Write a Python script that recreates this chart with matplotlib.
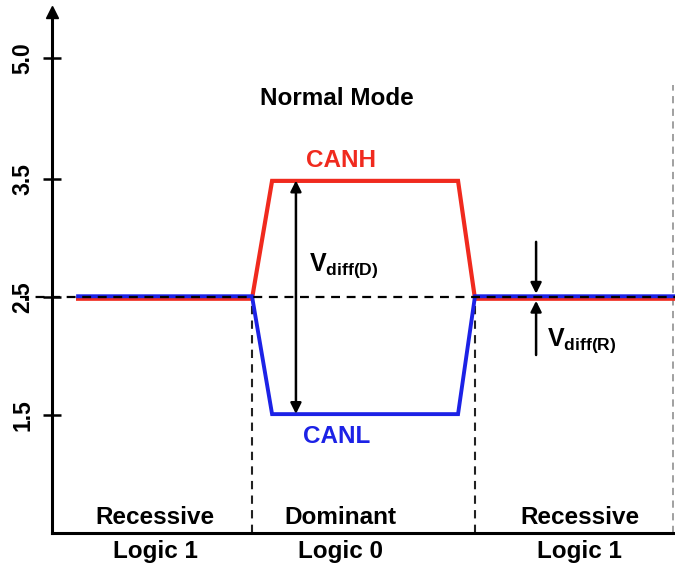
import matplotlib
matplotlib.use("Agg")
import matplotlib.pyplot as plt
from matplotlib.transforms import offset_copy

plt.rcParams['font.family'] = ['Liberation Sans', 'DejaVu Sans']
plt.rcParams['mathtext.fontset'] = 'custom'
plt.rcParams['mathtext.rm'] = 'Liberation Sans:bold'
plt.rcParams['mathtext.bf'] = 'Liberation Sans:bold'
plt.rcParams['mathtext.it'] = 'Liberation Sans:bold'

# ---- data ----
canh_t = [0.22, 1.0, 1.09, 1.924, 2.0, 2.897]
canh_v = [2.5, 2.5, 3.5, 3.5, 2.5, 2.5]
canl_t = [0.22, 1.0, 1.09, 1.924, 2.0, 2.897]
canl_v = [2.5, 2.5, 1.5, 1.5, 2.5, 2.5]
ref_level = 2.5
bit_bounds = [1.0, 2.0]
ytick_pos = [1.5, 2.5, 3.5, 4.53]
ytick_labels = ['1.5', '2.5', '3.5', '5.0']
state_labels = ['Recessive', 'Dominant', 'Recessive']
logic_labels = ['Logic 1', 'Logic 0', 'Logic 1']
state_x = [0.565, 1.395, 2.47]

RED = '#f02a1e'
BLUE = '#1c22e6'
FS = 17.5

fig = plt.figure(figsize=(6.75, 5.66), dpi=100)
ax = fig.add_axes([52/675, 33/566, 623/675, 521/566])
ax.set_xlim(0.103, 2.897)
ax.set_ylim(0.5, 4.92)

# signals
red_tr = offset_copy(ax.transData, fig=fig, x=0, y=-1.5, units='dots')
blue_tr = offset_copy(ax.transData, fig=fig, x=0, y=1.0, units='dots')
ax.plot(canh_t, canh_v, color=RED, lw=3.0, transform=red_tr, zorder=3,
        solid_joinstyle='miter')
ax.plot(canl_t, canl_v, color=BLUE, lw=2.8, transform=blue_tr, zorder=4,
        solid_joinstyle='miter')

# reference dashed line
ax.plot([-0.04, 2.897], [ref_level, ref_level], color='black', lw=1.6,
        ls=(0, (4, 3)), zorder=5, clip_on=False)
for b in bit_bounds:
    ax.plot([b, b], [0.5, ref_level], color='#222222', lw=1.5, ls=(0, (4, 3)), zorder=2)
ax.plot([2.888, 2.888], [0.5, 4.3], color='#999999', lw=1.3, ls=(0, (4, 3)), zorder=2)

# Vdiff(D) arrow
ax.annotate('', xy=(1.197, 3.49), xytext=(1.197, 1.51),
            arrowprops=dict(arrowstyle='<|-|>', color='black', lw=1.8,
                            mutation_scale=16, shrinkA=0, shrinkB=0), zorder=6)
ax.text(1.255, 2.77, r'$\mathbf{V_{diff(D)}}$', fontsize=18, ha='left', va='center')

# Vdiff(R) arrows
ax.annotate('', xy=(2.274, 2.53), xytext=(2.274, 2.97),
            arrowprops=dict(arrowstyle='-|>', color='black', lw=1.8,
                            mutation_scale=16, shrinkA=0, shrinkB=0), zorder=6)
ax.annotate('', xy=(2.274, 2.47), xytext=(2.274, 2.01),
            arrowprops=dict(arrowstyle='-|>', color='black', lw=1.8,
                            mutation_scale=16, shrinkA=0, shrinkB=0), zorder=6)
ax.text(2.325, 2.13, r'$\mathbf{V_{diff(R)}}$', fontsize=18, ha='left', va='center')

# labels
ax.text(1.38, 4.19, 'Normal Mode', fontsize=FS, fontweight='bold', ha='center', va='center')
ax.text(1.40, 3.66, 'CANH', fontsize=FS, fontweight='bold', color=RED, ha='center', va='center')
ax.text(1.38, 1.32, 'CANL', fontsize=FS, fontweight='bold', color=BLUE, ha='center', va='center')
for x, s, l in zip(state_x, state_labels, logic_labels):
    ax.text(x, 0.63, s, fontsize=FS, fontweight='bold', ha='center', va='center')
    ax.text(x, 0.345, l, fontsize=FS, fontweight='bold', ha='center', va='center', clip_on=False)

# axes styling
for s in ['top', 'right']:
    ax.spines[s].set_visible(False)
ax.spines['left'].set_linewidth(2.2)
ax.spines['bottom'].set_linewidth(2.2)
ax.set_xticks([])
ax.set_yticks(ytick_pos)
ax.set_yticklabels(ytick_labels, rotation=90, va='center', fontsize=16.5, fontweight='bold')
ax.tick_params(axis='y', direction='inout', length=13, width=1.8, pad=6)
ax.plot([0], [1], marker='^', color='black', markersize=9, transform=ax.transAxes,
        clip_on=False, zorder=10)

fig.savefig('out.png', dpi=100)
